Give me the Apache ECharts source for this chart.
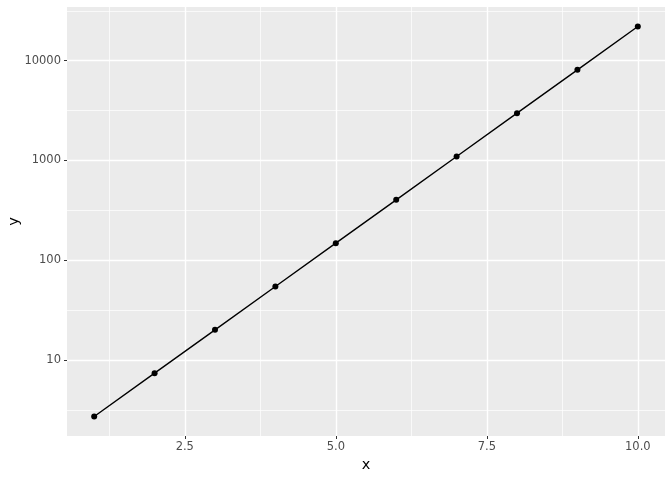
<!DOCTYPE html>
<html>
<head>
<meta charset="utf-8">
<script src="https://cdn.jsdelivr.net/npm/echarts@6/dist/echarts.min.js"></script>
<style>html,body{margin:0;padding:0;background:#fff;}#c{width:672px;height:480px;}</style>
</head>
<body>
<div id="c"></div>
<script>
// Data (y = values)
var xValues = [1, 2, 3, 4, 5, 6, 7, 8, 9, 10];
var yValues = [2.72, 7.39, 20.1, 54.6, 148.4, 403.4, 1096.6, 2981, 8103, 22026];
var xMajorTicks = [2.5, 5.0, 7.5, 10.0];
var xMinorTicks = [1.25, 3.75, 6.25, 8.75];
var yMajorTicks = [10, 100, 1000, 10000];
var yMinorTicks = [3.1623, 31.623, 316.23, 3162.3, 31623];

var log10 = function (v) { return Math.log(v) / Math.LN10; };
var ly = yValues.map(log10);
var lyMin = Math.min.apply(null, ly), lyMax = Math.max.apply(null, ly);
var ySpan = lyMax - lyMin;
var xMin = Math.min.apply(null, xValues), xMax = Math.max.apply(null, xValues);
var xSpan = xMax - xMin;
var xr = [xMin - 0.05 * xSpan, xMax + 0.05 * xSpan];
var yr = [lyMin - 0.05 * ySpan, lyMax + 0.05 * ySpan];

var font = 'DejaVu Sans';
var chart = echarts.init(document.getElementById('c'), null, {renderer: 'canvas'});
var fmtX = function (v) { return Number(v).toFixed(1); };
var fmtY = function (v) { return String(Math.round(Math.pow(10, v))); };

chart.setOption({
  backgroundColor: '#ffffff',
  animation: false,
  grid: {left: 67, right: 7, top: 7, bottom: 44, containLabel: false, outerBoundsMode: 'none',
         show: true, backgroundColor: '#EBEBEB', borderWidth: 0},
  xAxis: [{
    type: 'value', min: xr[0], max: xr[1],
    name: 'x', nameLocation: 'middle', nameGap: 22, nameMoveOverlap: false,
    nameTextStyle: {color: '#000', fontSize: 14.5, fontFamily: font},
    axisLine: {show: false},
    axisTick: {show: true, length: 3, lineStyle: {color: '#333333', width: 1}, customValues: xMajorTicks},
    axisLabel: {color: '#4D4D4D', fontSize: 11.5, fontFamily: font, margin: 5, formatter: fmtX, customValues: xMajorTicks},
    splitLine: {show: true, lineStyle: {color: '#ffffff', width: 1.4}}
  }, {
    type: 'value', min: xr[0], max: xr[1], position: 'bottom',
    axisLine: {show: false}, axisLabel: {show: false},
    axisTick: {show: false, customValues: xMinorTicks},
    splitLine: {show: true, lineStyle: {color: '#ffffff', width: 0.7}}
  }],
  yAxis: [{
    type: 'value', min: yr[0], max: yr[1],
    name: 'y', nameLocation: 'middle', nameGap: 45, nameRotate: 90, nameMoveOverlap: false,
    nameTextStyle: {color: '#000', fontSize: 14.5, fontFamily: font},
    axisLine: {show: false},
    axisTick: {show: true, length: 3, lineStyle: {color: '#333333', width: 1}, customValues: yMajorTicks.map(log10)},
    axisLabel: {color: '#4D4D4D', fontSize: 11.5, fontFamily: font, margin: 6, formatter: fmtY, customValues: yMajorTicks.map(log10)},
    splitLine: {show: true, lineStyle: {color: '#ffffff', width: 1.4}}
  }, {
    type: 'value', min: yr[0], max: yr[1], position: 'left',
    axisLine: {show: false}, axisLabel: {show: false},
    axisTick: {show: false, customValues: yMinorTicks.map(log10)},
    splitLine: {show: true, lineStyle: {color: '#ffffff', width: 0.7}}
  }],
  series: [{
    type: 'line', xAxisIndex: 0, yAxisIndex: 0,
    data: xValues.map(function (x, i) { return [x, log10(yValues[i])]; }),
    symbol: 'circle', symbolSize: 6,
    itemStyle: {color: '#000000'},
    lineStyle: {color: '#000000', width: 1.4},
    z: 5
  }]
});
</script>
</body>
</html>
